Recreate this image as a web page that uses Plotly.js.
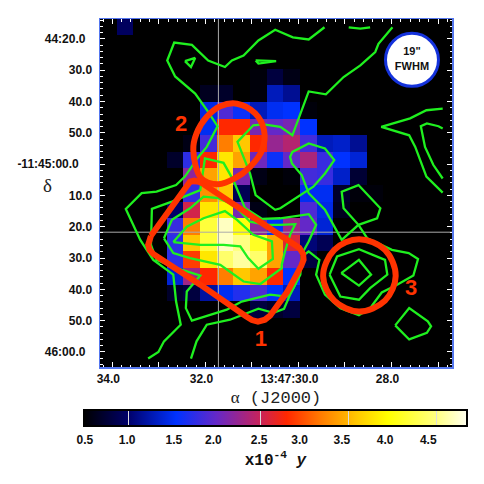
<!DOCTYPE html>
<html><head><meta charset="utf-8">
<script src="https://cdn.plot.ly/plotly-3.0.1.min.js"></script>
<style>html,body{margin:0;padding:0;background:#fff}</style></head>
<body><div id="c" style="width:484px;height:484px"></div>
<script>
// Map: y parameter x1e4, rows north to south, columns east to west
const mapZ = [
[0,.95,0,0,0,0,0,0,0,0,0,0,0,0,0,0,0,0,0,0,0],
[0,0,0,0,0,0,0,0,0,0,0,0,0,0,0,0,0,0,0,0,0],
[0,0,0,0,0,0,0,0,0,0,0,0,0,0,0,0,0,0,0,0,0],
[0,0,0,0,0,0,0,0,0,.55,.8,.6,0,0,0,0,0,0,0,0,0],
[0,0,0,0,0,0,.65,.7,.5,.55,1.3,1.15,0,0,0,0,0,0,0,0,0],
[0,0,0,0,0,0,1.45,1.9,1.6,1.3,1.5,1.55,.55,0,0,0,0,0,0,0,0],
[0,0,0,0,0,0,1.5,2.8,2.8,2.1,2.0,2.1,1.55,0,0,0,0,0,0,0,0],
[0,0,0,0,0,.6,1.85,3.2,3.6,2.8,2.25,2.4,1.85,1.3,1.35,1.15,0,0,0,0,0],
[0,0,0,0,.7,1.75,2.8,3.8,3.4,2.05,1.6,2.0,2.35,1.8,1.55,1.4,0,0,0,0,0],
[0,0,0,0,0,2.2,3.4,3.8,2.1,.6,0,.55,1.85,1.8,1.35,.75,0,0,0,0,0],
[0,0,0,0,0,1.8,3.3,3.6,.9,0,0,0,1.5,1.5,.7,.55,.55,0,0,0,0],
[0,0,0,0,1.0,2.55,3.8,3.9,2.1,.6,0,.5,1.9,1.45,.65,.5,0,0,0,0,0],
[0,0,0,0,1.8,3.2,4.2,4.7,4.0,2.2,1.55,2.3,2.0,1.4,0,0,0,0,0,0,0],
[0,0,0,0,1.75,3.6,4.2,4.7,4.5,4.1,3.4,2.6,1.05,.9,0,0,0,0,0,0,0],
[0,0,0,0,1.75,2.9,3.8,4.4,4.6,4.4,3.4,2.0,.8,0,0,0,0,0,0,0,0],
[0,0,0,0,1.4,2.3,2.8,3.2,3.6,3.4,2.8,1.55,0,0,0,0,0,0,0,0,0],
[0,0,0,0,.7,.8,1.2,1.5,1.7,1.9,1.55,1.3,0,0,0,0,0,0,0,0,0],
[0,0,0,0,0,0,0,0,0,.8,.7,.8,0,0,0,0,0,0,0,0,0],
[0,0,0,0,0,0,0,0,0,0,0,0,0,0,0,0,0,0,0,0,0],
[0,0,0,0,0,0,0,0,0,0,0,0,0,0,0,0,0,0,0,0,0],
[0,0,0,0,0,0,0,0,0,0,0,0,0,0,0,0,0,0,0,0,0]];
const mapRA0 = 34.085, mapRAstep = -0.3585, mapDec0 = 16.26, mapDecStep = 5.308;

// Axis ticks: RA seconds of 13:47; Dec arcsec after -11:44:00
const raTicks = [34,33,32,31,30,29,28,27];
const raLabels = ['34.0','','32.0','','13:47:30.0\u00a0\u00a0\u00a0','','28.0',''];
const decTicks = [20,30,40,50,60,70,80,90,100,110,120];
const decLabels = ['44:20.0\u00a0\u00a0','30.0','40.0','50.0','-11:45:00.0\u00a0\u00a0\u00a0\u00a0','10.0','20.0','30.0','40.0','50.0','46:00.0\u00a0\u00a0'];
const crossRA = 31.72, crossDec = 81.75;

// Contours
const cA_ra=[29.44,29.78,30.12,30.50,30.86,31.18,31.43,31.58,31.94,32.29,32.67,32.82,32.65,32.22,31.94,31.74,31.97,32.15,32.44,32.63,33.05,33.37,33.71,33.40,33.12,32.69,32.63,32.53,32.89,33.01,33.23];
const cA_dec=[16.3,20.2,19.5,17.1,20.5,25.3,26.9,29.0,26.9,21.9,21.2,26.9,32.0,37.5,43.3,47.9,54.5,57.7,64.0,66.7,68.8,69.3,74.3,84.2,90.6,95.3,103.9,111.3,116.6,120.0,122.1];
const cB_ra=[32.44,32.22,32.31,32.44], cB_dec=[27.1,26.1,29.0,27.1];
const cC_ra=[30.92,30.48,30.86,30.92], cC_dec=[26.9,27.1,27.9,26.9];
const cD_ra=[28.92,28.67,28.46], cD_dec=[16.3,16.7,16.3];
const cE_ra=[27.98,28.28,28.35,28.67,29.03,29.41,29.78,30.13,30.39,30.75,30.97,31.31,31.04,30.97,30.92,30.50,30.39,29.68,29.43,29.23,29.43,29.78,30.13,30.18,30.14,29.93,29.78,29.43,29.07,28.71,28.31,28.24,28.71,29.07,29.03,28.71,28.52,27.99,27.63,27.43,27.53,27.88,28.21,28.46,28.70,29.10,29.43,29.62,29.55,29.78,29.93,29.96,30.11,30.25,30.61,31.22,31.54,32.29,32.42,32.40,32.11,32.72,33.05,33.17,33.15,32.72,32.11,32.01,31.61,31.40,31.15,30.78,30.39,29.78,29.62,29.78,29.90];
const cE_dec=[16.3,21.6,24.2,28.5,32.2,37.7,36.8,50.8,48.1,47.3,47.6,52.9,63.0,66.7,69.9,74.6,74.1,67.2,63.0,58.7,55.0,53.4,56.1,57.7,59.8,63.5,69.3,74.6,84.2,79.4,77.3,74.1,66.7,68.8,74.1,79.4,83.7,87.4,88.4,90.3,95.6,98.5,101.0,106.0,108.3,106.0,101.7,95.3,90.6,87.9,89.5,95.3,99.6,102.3,101.7,103.9,106.5,110.0,106.0,100.7,95.6,92.7,90.6,85.8,74.3,72.0,68.3,58.2,59.6,65.1,74.0,77.5,77.3,76.0,79.4,84.7,88.0];
const cH_ra=[32.31,32.19,31.97,31.47,30.86,30.54,30.31,30.18,30.05], cH_dec=[122.1,116.6,111.3,109.7,106.2,107.5,106.2,101.7,97.9];
const cL_ra=[32.89,32.72,32.33,32.04,31.72,31.38,31.04,30.68,30.39,30.07,30.18,30.29,30.36,30.36,30.82,31.18,31.68,32.33,32.69,32.89];
const cL_dec=[83.7,77.8,74.1,70.4,70.9,73.1,78.4,79.4,79.4,79.2,82.6,87.9,92.2,93.2,98.3,97.5,92.2,90.0,88.4,83.7];
const cM_ra=[32.69,32.40,32.04,31.58,31.32,30.97,30.57,30.55,30.86,31.08,31.25,31.61,32.11,32.69];
const cM_dec=[84.9,80.0,77.3,75.0,77.8,82.6,84.7,90.3,93.4,90.0,86.3,85.8,85.8,84.9];
const cR_ra=[29.33,29.17,28.70,28.14,28.09,28.46,28.70,29.10,29.33], cR_dec=[95.3,89.5,87.2,90.6,95.3,99.6,103.3,102.3,95.3];
const cS_ra=[29.08,28.70,28.44,28.70,29.08], cS_dec=[94.8,90.6,95.3,98.8,94.8];
const cT_ra=[27.92,27.62,27.22,27.15,27.24,27.62,27.92], cT_dec=[111.5,106.0,110.2,111.8,113.9,116.0,111.5];
const cP_ra=[26.90,27.25,27.60,28.22,27.62,27.49,27.25,26.90], cP_dec=[42.3,42.8,45.4,48.1,50.8,54.5,64.0,69.1];
const cQ_ra=[26.90,26.99,27.24,27.37,27.28,27.10,26.90], cQ_dec=[48.6,47.9,47.0,47.9,54.5,60.3,64.6];

// Regions
const r1_ra=[33.17,32.80,32.42,32.33,32.24,32.14,32.03,31.08,30.11,29.98,29.90,29.89,29.94,30.24,30.61,30.72,30.87,31.00,31.13,32.11,33.12,33.20,33.23,33.21,33.17];
const r1_dec=[82.9,75.0,66.7,65.6,65.3,65.6,66.5,75.9,85.2,86.8,88.7,90.6,92.5,100.8,108.4,109.7,110.3,109.8,108.6,98.5,88.7,87.4,85.8,84.2,82.9];
const r2_ra=[31.32,30.93,30.74,30.78,31.04,31.36,31.72,32.09,32.26,32.19,31.97,31.68,31.32];
const r2_dec=[40.7,43.8,49.2,55.5,60.9,64.5,66.4,64.5,55.5,50.2,44.9,41.5,40.7];
const r3_ra=[28.70,28.14,27.91,28.14,28.70,29.23,29.47,29.23,28.70];
const r3_dec=[84.0,87.4,95.7,103.6,107.1,103.6,95.7,87.4,84.0];
const regionLabels=['1','2','3'], regionLabelRA=[30.81,32.52,27.58], regionLabelDec=[116.4,47.6,100.1];
const beamRA=[27.56], beamDec=[26.7];

// Colour bar
const barTickVals=[.51,.99,1.52,1.97,2.49,2.95,3.43,3.92,4.41];
const barTickText=['0.5','1.0','1.5','2.0','2.5','3.0','3.5','4.0','4.5'];
const barMarks=[1.0,2.5,3.5,4.5];

const cs=[[0,'rgb(0,0,0)'],[.115,'rgb(0,0,105)'],[.241,'rgb(0,50,255)'],[.345,'rgb(100,40,200)'],[.46,'rgb(200,35,90)'],[.529,'rgb(255,40,0)'],[.62,'rgb(255,125,0)'],[.713,'rgb(255,200,0)'],[.793,'rgb(255,255,0)'],[.92,'rgb(255,255,130)'],[1,'rgb(255,255,240)']];
const zmin=.5,zmax=4.85;
const mono='"Liberation Mono",monospace', sans='"Liberation Sans",Arial,sans-serif';
const green='#1ff01f', red='#ff3300';
const raRange=[34.265,26.70], decRange=[13.66,124.8];

const bar={orientation:'h',x:(84-100)/351.7,xanchor:'left',y:(367.5-410.5)/349,yanchor:'top',
  lenmode:'pixels',len:383,thicknessmode:'pixels',thickness:16,outlinecolor:'#000',outlinewidth:2,xpad:0,ypad:0};
const traces=[{type:'heatmap',z:mapZ,x0:mapRA0,dx:mapRAstep,y0:mapDec0,dy:mapDecStep,zmin,zmax,zsmooth:false,colorscale:cs,hoverinfo:'skip',
  colorbar:Object.assign({},bar,{tickmode:'array',tickvals:barTickVals,ticktext:barTickText,ticks:'outside',ticklen:3,tickcolor:'rgba(0,0,0,0)',
    tickfont:{family:sans,size:12,color:'#111',weight:'bold'},
    title:{text:'x10<sup>-4</sup> <i>y</i>',side:'bottom',font:{family:mono,size:16,color:'#111',weight:'bold'}}})},
 {type:'scatter',mode:'markers',x:beamRA,y:beamDec,hoverinfo:'skip',
  marker:{color:[1],cmin:zmin,cmax:zmax,colorscale:cs,opacity:0,size:1,showscale:true,
   colorbar:Object.assign({},bar,{tickmode:'array',tickvals:barMarks,ticktext:['\u00a0','\u00a0','\u00a0','\u00a0'],ticks:'inside',ticklen:16,tickcolor:'#ddd',tickwidth:1,tickfont:{size:6}})}},
 {type:'scatter',mode:'lines',x:[raRange[0],raRange[1],null,crossRA,crossRA],y:[crossDec,crossDec,null,decRange[0],decRange[1]],line:{color:'#aaaaaa',width:1},hoverinfo:'skip'}];
[[cA_ra,cA_dec],[cB_ra,cB_dec],[cC_ra,cC_dec],[cD_ra,cD_dec],[cE_ra,cE_dec],[cH_ra,cH_dec],[cL_ra,cL_dec],[cM_ra,cM_dec],[cR_ra,cR_dec],[cS_ra,cS_dec],[cT_ra,cT_dec],[cP_ra,cP_dec],[cQ_ra,cQ_dec]].forEach(c=>
  traces.push({type:'scatter',mode:'lines',x:c[0],y:c[1],line:{color:green,width:2.3},hoverinfo:'skip'}));
traces.push({type:'scatter',mode:'lines',x:r1_ra,y:r1_dec,line:{color:red,width:6},hoverinfo:'skip'});
[[r2_ra,r2_dec],[r3_ra,r3_dec]].forEach(c=>
  traces.push({type:'scatter',mode:'lines',x:c[0],y:c[1],line:{color:red,width:6,shape:'spline',smoothing:1},hoverinfo:'skip'}));
traces.push({type:'scatter',mode:'text',x:regionLabelRA,y:regionLabelDec,text:regionLabels,textposition:'middle center',textfont:{family:sans,size:22,color:red,weight:'bold'},hoverinfo:'skip'});
traces.push({type:'scatter',mode:'markers+text',x:beamRA,y:beamDec,text:['19"<br>FWHM'],textposition:'middle center',textfont:{family:sans,size:11,color:'#111',weight:'bold'},
  marker:{size:53,color:'#fff',line:{color:'#1432dc',width:3}},hoverinfo:'skip'});

const axBase={showgrid:false,zeroline:false,showline:true,linecolor:'#5577ee',linewidth:1.5,mirror:'ticks',ticks:'inside',tickcolor:'#fff',ticklen:5,tickwidth:1,
  tickfont:{family:sans,size:12,color:'#111',weight:'bold'},tickmode:'array'};
const layout={width:484,height:484,showlegend:false,paper_bgcolor:'#fff',plot_bgcolor:'#000',
  margin:{l:100,r:32.3,t:18.5,b:116.5,pad:0,autoexpand:false},
  xaxis:Object.assign({},axBase,{range:raRange,tickvals:raTicks,ticktext:raLabels,ticklabelshift:4,
    minor:{tickmode:'linear',tick0:0,dtick:.2,ticks:'inside',ticklen:2.5,tickcolor:'#fff',showgrid:false},
    title:{text:'<span style="font-family:\'Liberation Serif\'">α</span> (J2000)\u00a0\u00a0',standoff:6,font:{family:mono,size:17,color:'#222'}}}),
  yaxis:Object.assign({},axBase,{range:[decRange[1],decRange[0]],tickvals:decTicks,ticktext:decLabels,ticklabelstandoff:4,
    minor:{tickmode:'linear',tick0:0,dtick:2,ticks:'inside',ticklen:2.5,tickcolor:'#fff',showgrid:false}}),
  annotations:[{xref:'paper',yref:'paper',x:-.1495,y:1-(185-18.5)/349,xanchor:'center',yanchor:'middle',text:'δ',showarrow:false,font:{family:'"Liberation Serif",serif',size:19,color:'#222'}}]};
Plotly.newPlot('c',traces,layout,{displayModeBar:false,staticPlot:true});
</script></body></html>
